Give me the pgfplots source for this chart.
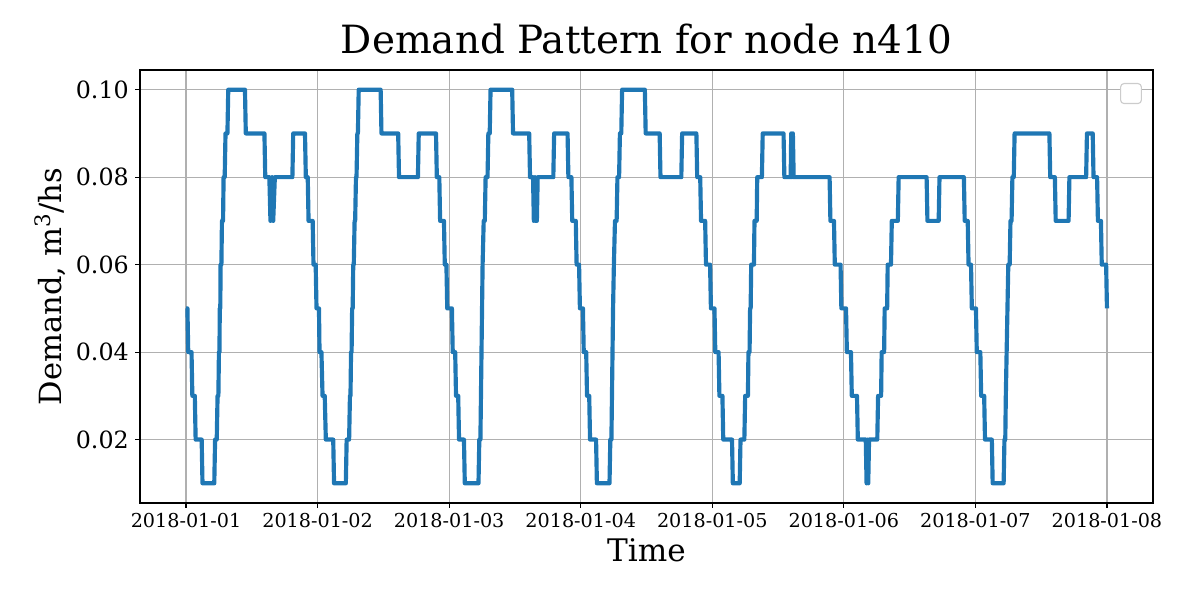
\documentclass[border=0pt]{standalone}
\usepackage{fontspec}
\setmainfont{DejaVu Serif}
\usepackage{pgfplots}
\pgfplotsset{compat=1.18}
\definecolor{mplblue}{RGB}{31,119,180}
\definecolor{gridgray}{RGB}{176,176,176}
\begin{document}
\begin{tikzpicture}
\path[use as bounding box] (-100.8bp,-69.84bp) rectangle (763.2bp,362.16bp);
\begin{axis}[
  at={(0,0)}, anchor=south west,
  scale only axis, width=729.36bp, height=311.76bp,
  xmin=-8.4, xmax=176.4, ymin=0.0055, ymax=0.1045,
  xtick={0,24,48,72,96,120,144,168},
  xticklabels={2018-01-01,2018-01-02,2018-01-03,2018-01-04,2018-01-05,2018-01-06,2018-01-07,2018-01-08},
  ytick={0.02,0.04,0.06,0.08,0.10},
  yticklabels={0.02,0.04,0.06,0.08,0.10},
  xtick pos=bottom, ytick pos=left,
  tick align=outside, major tick length=3.5bp,
  tick style={black, line width=0.8bp},
  axis line style={line width=0.8bp},
  grid=major, grid style={gridgray, line width=0.8bp},
  xticklabel style={font=\fontsize{13.8bp}{16bp}\selectfont, anchor=north, inner sep=0pt, yshift=-3.7bp},
  yticklabel style={font=\fontsize{17.1bp}{20bp}\selectfont, anchor=east, inner sep=0pt, xshift=-4.4bp},
  title={Demand Pattern for node n410},
  title style={font=\fontsize{28bp}{34bp}\selectfont, at={(axis description cs:0.5,1.0185)}, anchor=base, inner sep=0pt},
  xlabel={Time},
  xlabel style={font=\fontsize{22.4bp}{27bp}\selectfont, at={(axis description cs:0.5,-0.1085)}, anchor=center, inner sep=0pt},
  ylabel={Demand, m\textsuperscript{3}/hs},
  ylabel style={font=\fontsize{22bp}{27bp}\selectfont, at={(axis description cs:-0.0888,0.5)}, anchor=center, inner sep=0pt},
  legend style={at={(axis description cs:0.9891,0.970)}, anchor=north east, draw=black!20, rounded corners=2.5bp, fill=white, inner sep=0pt, minimum width=15bp, minimum height=14.4bp, line width=0.8bp},
]
\addplot[mplblue, line width=3bp, line join=round, forget plot] coordinates {
(0,0.05) (0.25,0.05) (0.4,0.04) (1.0,0.04) (1.15,0.03) (1.6,0.03) (1.75,0.02) (2.85,0.02) (3.0,0.01) (5.15,0.01) (5.3,0.02) (5.6,0.02) (5.75,0.03) (5.9,0.03) (6.0,0.04) (6.1,0.04) (6.15,0.05) (6.25,0.05) (6.3,0.06) (6.45,0.06) (6.55,0.07) (6.75,0.07) (6.85,0.08) (7.05,0.08) (7.2,0.09) (7.55,0.09) (7.7,0.1) (10.75,0.1) (10.9,0.09) (14.3,0.09) (14.45,0.08) (15.2,0.08) (15.4,0.07) (15.7,0.08) (15.9,0.07) (16.2,0.08) (19.4,0.08) (19.55,0.09) (21.7,0.09) (21.85,0.08) (22.2,0.08) (22.35,0.07) (23.1,0.07) (23.25,0.06) (23.65,0.06) (23.8,0.05) (24.25,0.05)
(24.35,0.04) (24.7,0.04) (24.9,0.03) (25.3,0.03) (25.5,0.02) (26.85,0.02) (27.0,0.01) (29.15,0.01) (29.3,0.02) (29.75,0.02) (29.9,0.03) (30.0,0.03) (30.1,0.04) (30.2,0.04) (30.3,0.05) (30.4,0.05) (30.5,0.06) (30.6,0.06) (30.75,0.07) (30.85,0.07) (31.0,0.08) (31.1,0.08) (31.25,0.09) (31.35,0.09) (31.5,0.1) (35.5,0.1) (35.65,0.09) (38.7,0.09) (38.85,0.08) (42.3,0.08) (42.45,0.09) (45.6,0.09) (45.75,0.08) (46.2,0.08) (46.35,0.07) (47.05,0.07) (47.2,0.06) (47.5,0.06) (47.65,0.05) (48.5,0.05)
(48.65,0.04) (49.1,0.04) (49.25,0.03) (49.65,0.03) (49.8,0.02) (50.7,0.02) (50.85,0.01) (53.35,0.01) (53.5,0.02) (53.7,0.02) (53.8,0.03) (53.9,0.04) (54.0,0.05) (54.1,0.06) (54.3,0.07) (54.5,0.07) (54.65,0.08) (55.0,0.08) (55.15,0.09) (55.4,0.09) (55.55,0.1) (59.5,0.1) (59.65,0.09) (62.6,0.09) (62.75,0.08) (63.3,0.08) (63.45,0.07) (63.65,0.08) (63.8,0.07) (64.0,0.07) (64.15,0.08) (67.0,0.08) (67.15,0.09) (69.6,0.09) (69.75,0.08) (70.3,0.08) (70.45,0.07) (71.1,0.07) (71.25,0.06) (71.7,0.06) (71.85,0.05) (72.4,0.05)
(72.55,0.04) (73.0,0.04) (73.15,0.03) (73.55,0.03) (73.7,0.02) (74.8,0.02) (74.95,0.01) (77.25,0.01) (77.4,0.02) (77.6,0.02) (77.7,0.03) (77.8,0.04) (77.9,0.05) (78.05,0.06) (78.25,0.07) (78.55,0.07) (78.7,0.08) (79.0,0.08) (79.15,0.09) (79.4,0.09) (79.55,0.1) (83.7,0.1) (83.85,0.09) (86.4,0.09) (86.55,0.08) (90.35,0.08) (90.5,0.09) (93.1,0.09) (93.25,0.08) (93.8,0.08) (93.95,0.07) (94.7,0.07) (94.85,0.06) (95.6,0.06) (95.75,0.05) (96.4,0.05)
(96.55,0.04) (97.15,0.04) (97.3,0.03) (97.85,0.03) (98.0,0.02) (99.6,0.02) (99.75,0.01) (101.0,0.01) (101.15,0.02) (101.85,0.02) (102.0,0.03) (102.5,0.03) (102.6,0.04) (102.8,0.04) (102.9,0.05) (103.0,0.05) (103.1,0.06) (103.6,0.06) (103.7,0.07) (104.1,0.07) (104.2,0.08) (105.05,0.08) (105.2,0.09) (109.0,0.09) (109.15,0.08) (110.3,0.08) (110.4,0.09) (110.55,0.08) (110.7,0.09) (110.85,0.08) (117.4,0.08) (117.55,0.07) (118.2,0.07) (118.35,0.06) (119.4,0.06) (119.55,0.05) (120.4,0.05)
(120.55,0.04) (121.3,0.04) (121.45,0.03) (122.4,0.03) (122.55,0.02) (124.0,0.02) (124.15,0.01) (124.3,0.02) (124.45,0.01) (124.6,0.02) (126.1,0.02) (126.25,0.03) (126.8,0.03) (126.9,0.04) (127.35,0.04) (127.45,0.05) (127.9,0.05) (128.0,0.06) (128.6,0.06) (128.75,0.07) (129.85,0.07) (130.0,0.08) (135.1,0.08) (135.25,0.07) (137.3,0.07) (137.45,0.08) (141.9,0.08) (142.05,0.07) (142.6,0.07) (142.75,0.06) (143.2,0.06) (143.35,0.05) (144.1,0.05)
(144.25,0.04) (144.9,0.04) (145.05,0.03) (145.6,0.03) (145.75,0.02) (147.0,0.02) (147.15,0.01) (149.15,0.01) (149.3,0.02) (149.45,0.02) (149.55,0.03) (149.7,0.04) (149.85,0.05) (150.0,0.06) (150.25,0.06) (150.4,0.07) (150.6,0.07) (150.75,0.08) (151.0,0.08) (151.15,0.09) (157.5,0.09) (157.65,0.08) (158.5,0.08) (158.65,0.07) (161.0,0.07) (161.15,0.08) (164.2,0.08) (164.35,0.09) (165.4,0.09) (165.55,0.08) (166.2,0.08) (166.35,0.07) (166.9,0.07) (167.05,0.06) (167.85,0.06) (168,0.05)
};
\addlegendimage{empty legend}
\addlegendentry{}
\end{axis}
\end{tikzpicture}
\end{document}
